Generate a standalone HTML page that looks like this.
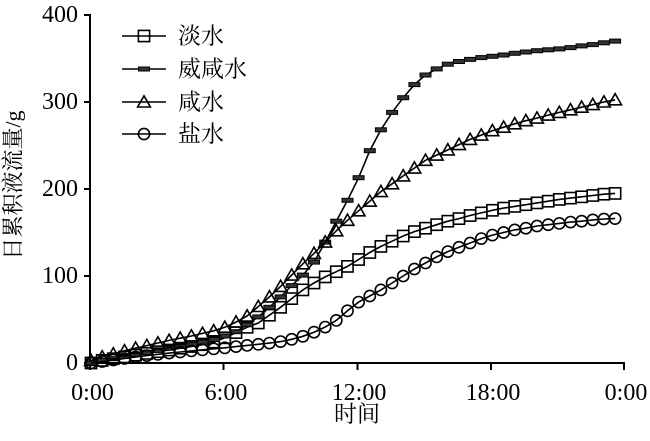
<!DOCTYPE html>
<html><head><meta charset="utf-8"><style>
html,body{margin:0;padding:0;background:#fff;}
svg{display:block;}
text{font-family:"Liberation Serif","Noto Serif CJK SC",serif;fill:#000;}
</style></head><body>
<svg width="650" height="441" viewBox="0 0 650 441" xmlns="http://www.w3.org/2000/svg">
<defs>
<marker id="sq" markerUnits="userSpaceOnUse" viewBox="-9 -9 18 18" refX="0" refY="0" markerWidth="18" markerHeight="18" overflow="visible">
<rect x="-5.6" y="-5.6" width="11.2" height="11.2" fill="none" stroke="#000" stroke-width="1.6"/>
</marker>
<marker id="ds" markerUnits="userSpaceOnUse" viewBox="-9 -9 18 18" refX="0" refY="0" markerWidth="18" markerHeight="18" overflow="visible">
<rect x="-5.5" y="-2" width="11" height="4" fill="#333" stroke="#000" stroke-width="1"/>
</marker>
<marker id="tr" markerUnits="userSpaceOnUse" viewBox="-9 -9 18 18" refX="0" refY="0" markerWidth="18" markerHeight="18" overflow="visible">
<polygon points="0,-6.2 6.4,5 -6.4,5" fill="none" stroke="#000" stroke-width="1.6" stroke-linejoin="miter"/>
</marker>
<marker id="ci" markerUnits="userSpaceOnUse" viewBox="-9 -9 18 18" refX="0" refY="0" markerWidth="18" markerHeight="18" overflow="visible">
<circle cx="0" cy="0" r="5.6" fill="none" stroke="#000" stroke-width="1.6"/>
</marker>
</defs>

<!-- axes -->
<g stroke="#000" stroke-width="2" fill="none">
<line x1="90" y1="14" x2="90" y2="364"/>
<line x1="89" y1="363" x2="625" y2="363"/>
<line x1="84" y1="15" x2="90" y2="15"/>
<line x1="84" y1="102" x2="90" y2="102"/>
<line x1="84" y1="189" x2="90" y2="189"/>
<line x1="84" y1="276" x2="90" y2="276"/>
<line x1="84" y1="363" x2="90" y2="363"/>
<line x1="90" y1="363" x2="90" y2="370"/>
<line x1="223.5" y1="363" x2="223.5" y2="370"/>
<line x1="357.5" y1="363" x2="357.5" y2="370"/>
<line x1="491" y1="363" x2="491" y2="370"/>
<line x1="624" y1="363" x2="624" y2="370"/>
</g>

<!-- y tick labels -->
<g font-size="24" text-anchor="end">
<text x="78" y="22">400</text>
<text x="78" y="109">300</text>
<text x="78" y="196">200</text>
<text x="78" y="283">100</text>
<text x="78" y="370">0</text>
</g>
<!-- x tick labels -->
<g font-size="24" text-anchor="middle">
<text x="92.5" y="400">0:00</text>
<text x="226" y="400">6:00</text>
<text x="359" y="400">12:00</text>
<text x="493" y="400">18:00</text>
<text x="626" y="400">0:00</text>
</g>

<text x="357" y="414" font-size="23" text-anchor="middle" dominant-baseline="central">时间</text>
<text transform="translate(13,185) rotate(-90)" x="0" y="0" font-size="22" text-anchor="middle" dominant-baseline="central">日累积液流量/g</text>

<!-- series -->
<g fill="none" stroke="#000" stroke-width="1.6">
<polyline marker-start="url(#sq)" marker-mid="url(#sq)" marker-end="url(#sq)" points="91,363 102.2,360.4 113.3,358.7 124.5,356.9 135.6,355.2 146.8,353.4 157.9,351.7 169.1,350 180.2,348.2 191.4,346.5 202.5,344.7 213.7,342.1 224.8,337.8 236,332.6 247.1,327.3 258.3,323 269.4,315.2 280.6,307.3 291.7,298.6 302.9,289.9 314,283 325.2,276.9 336.3,271.7 347.5,266.4 358.6,259.5 369.8,252.5 380.9,246.4 392.1,241.2 403.2,236 414.4,231.6 425.5,228.2 436.7,224.7 447.8,221.2 459,218.6 470.1,215.5 481.3,212.9 492.4,210.3 503.6,208.1 514.7,206.4 525.9,204.7 537,202.9 548.2,201.2 559.3,199.4 570.5,198.1 581.6,196.8 592.8,195.5 603.9,194.2 615.1,193.4"/>
<polyline marker-start="url(#ds)" marker-mid="url(#ds)" marker-end="url(#ds)" points="91,363 102.2,360.4 113.3,358.7 124.5,356.5 135.6,354.3 146.8,352.6 157.9,350.4 169.1,348.2 180.2,346.5 191.4,344.3 202.5,342.1 213.7,339.5 224.8,336 236,331.7 247.1,324.7 258.3,316.9 269.4,307.3 280.6,296.9 291.7,285.6 302.9,275.1 314,262.1 325.2,242.1 336.3,221.2 347.5,200.3 358.6,177.7 369.8,150.7 380.9,129.8 392.1,112.4 403.2,97.7 414.4,84.6 425.5,75 436.7,68.9 447.8,64.2 459,61.5 470.1,59.4 481.3,57.6 492.4,56.3 503.6,55 514.7,53.3 525.9,52 537,50.7 548.2,49.8 559.3,48.9 570.5,47.6 581.6,45.9 592.8,44.6 603.9,42.8 615.1,41.1"/>
<polyline marker-start="url(#tr)" marker-mid="url(#tr)" marker-end="url(#tr)" points="91,360.4 102.2,356.9 113.3,353.9 124.5,350.8 135.6,348.2 146.8,345.6 157.9,343 169.1,340.4 180.2,338.2 191.4,336 202.5,333.4 213.7,330.8 224.8,327.3 236,322.1 247.1,316 258.3,306.5 269.4,296.9 280.6,286.4 291.7,275.1 302.9,263.8 314,253.4 325.2,242.1 336.3,230.8 347.5,220.3 358.6,210.8 369.8,201.2 380.9,191.6 392.1,183.8 403.2,175.9 414.4,168.1 425.5,160.3 436.7,155.1 447.8,149.9 459,144.6 470.1,139.4 481.3,135.1 492.4,130.7 503.6,127.2 514.7,123.8 525.9,120.7 537,118.1 548.2,115.1 559.3,112.4 570.5,109.8 581.6,107.2 592.8,104.6 603.9,102 615.1,99.8"/>
<polyline marker-start="url(#ci)" marker-mid="url(#ci)" marker-end="url(#ci)" points="91,363 102.2,361.5 113.3,360 124.5,358.5 135.6,357 146.8,355.6 157.9,354.3 169.1,353.1 180.2,352 191.4,350.9 202.5,349.8 213.7,348.8 224.8,347.8 236,346.6 247.1,345.4 258.3,344.3 269.4,343.1 280.6,341.6 291.7,339.3 302.9,336.3 314,332.2 325.2,327.1 336.3,320.4 347.5,310.8 358.6,302.1 369.8,296 380.9,289.9 392.1,283 403.2,276 414.4,269 425.5,263 436.7,256.9 447.8,251.6 459,247.3 470.1,243 481.3,238.6 492.4,235.1 503.6,232.5 514.7,229.9 525.9,228.2 537,226 548.2,224.7 559.3,223.4 570.5,222.1 581.6,221.2 592.8,219.9 603.9,219 615.1,218.6"/>
</g>

<!-- legend -->
<g fill="none" stroke="#000" stroke-width="1.6">
<line x1="122" y1="36" x2="166" y2="36"/>
<rect x="138.4" y="30.4" width="11.2" height="11.2"/>
<line x1="122" y1="69" x2="166" y2="69"/>
<rect x="138.5" y="67" width="11" height="4" fill="#333" stroke-width="1"/>
<line x1="122" y1="102" x2="166" y2="102"/>
<polygon points="144,95.8 150.4,107 137.6,107"/>
<line x1="122" y1="134" x2="166" y2="134"/>
<circle cx="144" cy="134" r="5.6"/>
</g>
<g font-size="23" dominant-baseline="central">
<text x="178" y="36">淡水</text>
<text x="178" y="69">威咸水</text>
<text x="178" y="102">咸水</text>
<text x="178" y="134">盐水</text>
</g>
</svg>
</body></html>
